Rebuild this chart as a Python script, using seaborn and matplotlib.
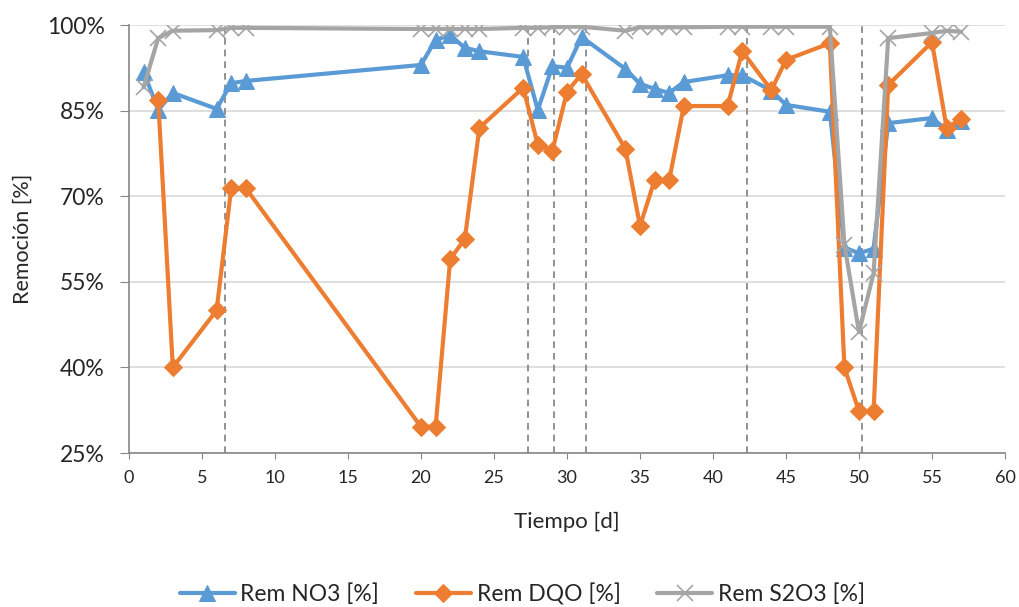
import numpy as np
import pandas as pd
import seaborn as sns
import matplotlib.pyplot as plt

# days for each series
dias_no3 = [1, 2, 3, 6, 7, 8, 20, 21, 22, 23, 24, 27, 28, 29, 30, 31, 34, 35, 36, 37, 38,
            41, 42, 44, 45, 48, 49, 50, 51, 52, 55, 56, 57]
rem_no3 = [91.8, 85.1, 88.1, 85.3, 89.8, 90.2, 93.0, 97.4, 98.2, 96.0, 95.4, 94.4, 85.1,
           92.8, 92.5, 97.9, 92.3, 89.7, 88.8, 88.1, 90.0, 91.2, 91.2, 88.5, 86.0, 84.8,
           61.0, 60.0, 60.8, 82.8, 83.7, 81.6, 83.2]

dias_dqo = [2, 3, 6, 7, 8, 20, 21, 22, 23, 24, 27, 28, 29, 30, 31, 34, 35, 36, 37, 38,
            41, 42, 44, 45, 48, 49, 50, 51, 52, 55, 56, 57]
rem_dqo = [86.9, 40.0, 50.0, 71.4, 71.4, 29.6, 29.6, 59.0, 62.5, 82.0, 89.0, 79.0, 78.0,
           88.3, 91.4, 78.3, 64.8, 72.8, 72.8, 85.8, 85.8, 95.4, 88.6, 93.9, 96.8, 40.0,
           32.3, 32.3, 89.5, 97.0, 82.0, 83.5]

dias_s2o3 = [1, 2, 3, 6, 7, 8, 20, 21, 22, 23, 24, 27, 28, 29, 30, 31, 34, 35, 36, 37, 38,
             41, 42, 44, 45, 48, 49, 50, 51, 52, 55, 56, 57]
rem_s2o3 = [89.1, 97.7, 99.0, 99.1, 99.5, 99.5, 99.3, 99.3, 99.3, 99.3, 99.3, 99.5, 99.5,
            99.6, 99.7, 99.7, 99.0, 99.6, 99.6, 99.6, 99.6, 99.7, 99.7, 99.7, 99.7, 99.7,
            61.5, 46.2, 56.5, 97.7, 98.6, 99.0, 98.8]

# vertical reference lines (change of operating conditions)
cambios = [6.6, 27.3, 29.1, 31.3, 42.3, 50.2]

sns.set_style("white")
plt.rcParams['font.family'] = ['Lato', 'DejaVu Sans']

fig = plt.figure(figsize=(10.19, 6.07), dpi=100)
ax = fig.add_axes([129 / 1019, 1 - 453 / 607, (1005 - 129) / 1019, (453 - 25) / 607])

azul, naranja, gris = '#5B9BD5', '#ED7D31', '#A5A5A5'

sns.lineplot(x=dias_no3, y=rem_no3, ax=ax, color=azul, lw=3, marker='^', markersize=12,
             markeredgecolor=azul, label='Rem NO3 [%]', zorder=2)
sns.lineplot(x=dias_dqo, y=rem_dqo, ax=ax, color=naranja, lw=3, marker='D', markersize=9,
             markeredgecolor=naranja, label='Rem DQO [%]', zorder=3)
sns.lineplot(x=dias_s2o3, y=rem_s2o3, ax=ax, color=gris, lw=3, marker='x', markersize=12,
             markeredgewidth=1.2, markeredgecolor=gris, label='Rem S2O3 [%]', zorder=4)

for c in cambios:
    ax.axvline(c, color='#7F7F7F', ls=(0, (4, 3)), lw=1.2, zorder=1)

ax.set_xlim(0, 60)
ax.set_ylim(25, 100)
ax.set_xticks(np.arange(0, 61, 5))
ax.set_yticks(np.arange(25, 101, 15))
ax.set_yticklabels([f'{v}%' for v in range(25, 101, 15)])
ax.yaxis.grid(True, color='#D9D9D9', lw=1.2)
ax.set_axisbelow(True)

for s in ['top', 'right']:
    ax.spines[s].set_visible(False)
for s in ['left', 'bottom']:
    ax.spines[s].set_color('#868686')
    ax.spines[s].set_linewidth(1.2)

ax.tick_params(axis='x', direction='out', length=4.5, color='#868686', labelsize=13,
               pad=8, bottom=True)
ax.tick_params(axis='y', direction='out', length=6.5, color='#868686', labelsize=16.5,
               pad=11, left=True)
ax.set_xlabel('Tiempo [d]', fontsize=16, labelpad=18)
ax.set_ylabel('Remoción [%]', fontsize=15.5, labelpad=10)

ax.legend(loc='center', bbox_to_anchor=(0.449, -0.33), ncol=3, frameon=False,
          fontsize=16.5, handlelength=2.4, handletextpad=0.25, columnspacing=1.6)

fig.savefig('out.png', dpi=100)
